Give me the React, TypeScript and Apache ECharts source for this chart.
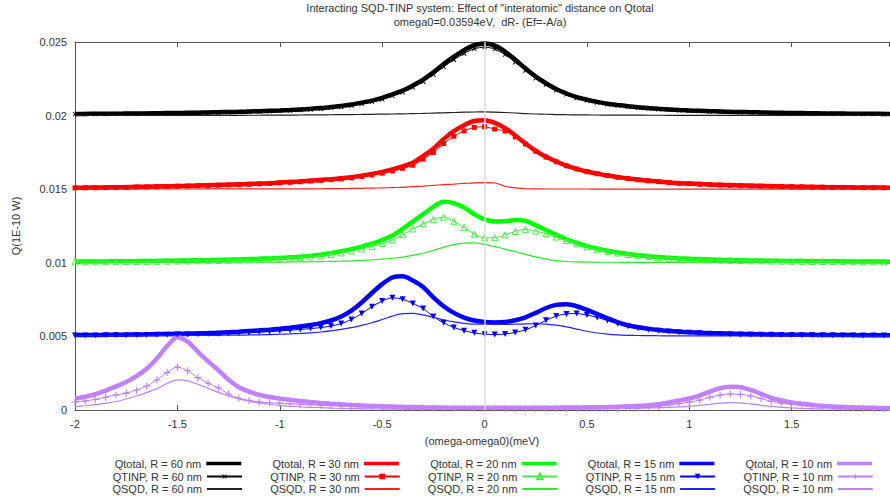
import React, { useEffect, useRef } from "react";
import * as echarts from "echarts";

// detuning grid (meV)
const xs = [
  -2, -1.95, -1.9, -1.85, -1.8, -1.75, -1.7, -1.65, -1.6, -1.55,
  -1.5, -1.45, -1.4, -1.35, -1.3, -1.25, -1.2, -1.15, -1.1, -1.05,
  -1, -0.95, -0.9, -0.85, -0.8, -0.75, -0.7, -0.65, -0.6, -0.55,
  -0.5, -0.45, -0.4, -0.35, -0.3, -0.25, -0.2, -0.15, -0.1, -0.05,
  0,
  0.05, 0.1, 0.15, 0.2, 0.25, 0.3, 0.35, 0.4, 0.45, 0.5,
  0.55, 0.6, 0.65, 0.7, 0.75, 0.8, 0.85, 0.9, 0.95, 1,
  1.05, 1.1, 1.15, 1.2, 1.25, 1.3, 1.35, 1.4, 1.45, 1.5,
  1.55, 1.6, 1.65, 1.7, 1.75, 1.8, 1.85, 1.9, 1.95, 2,
];

// R = 60 nm (curves shifted up by 0.02)
const qtotal60 = [
  0.02011, 0.020115, 0.02012, 0.020125, 0.02013, 0.020135, 0.02014, 0.02015, 0.02016, 0.02017,
  0.02018, 0.02019, 0.0202, 0.020215, 0.02023, 0.020245, 0.02026, 0.02028, 0.0203, 0.020325,
  0.02035, 0.02038, 0.02042, 0.02046, 0.02051, 0.02058, 0.02065, 0.02075, 0.02088, 0.02102,
  0.0212, 0.02145, 0.0217, 0.02205, 0.02245, 0.02295, 0.0235, 0.024, 0.02445, 0.02478,
  0.0249,
  0.02475, 0.02435, 0.0238, 0.0232, 0.02265, 0.0222, 0.0218, 0.0215, 0.02125, 0.02108,
  0.02093, 0.02081, 0.02072, 0.02064, 0.02057, 0.02051, 0.02046, 0.02042, 0.02038, 0.02035,
  0.020325, 0.0203, 0.02028, 0.02026, 0.020245, 0.02023, 0.020215, 0.0202, 0.02019, 0.02018,
  0.02017, 0.02016, 0.02015, 0.02014, 0.020135, 0.02013, 0.020125, 0.02012, 0.020115, 0.02011,
];
const qtinp60 = [
  0.0201, 0.020105, 0.02011, 0.020114, 0.020119, 0.020123, 0.020128, 0.020137, 0.020147, 0.020156,
  0.020165, 0.020174, 0.020183, 0.020197, 0.020211, 0.020225, 0.020239, 0.020257, 0.020275, 0.020298,
  0.02032, 0.020345, 0.02038, 0.020415, 0.02046, 0.020523, 0.020585, 0.020678, 0.0208, 0.02093,
  0.0211, 0.02134, 0.02158, 0.021915, 0.0223, 0.02278, 0.02331, 0.02379, 0.02422, 0.024535,
  0.02465,
  0.024515, 0.02414, 0.023625, 0.02306, 0.02254, 0.02211, 0.021728, 0.02144, 0.021198, 0.021035,
  0.02089, 0.020775, 0.020688, 0.02061, 0.020543, 0.020485, 0.020436, 0.020398, 0.020359, 0.02033,
  0.020306, 0.020281, 0.020262, 0.020242, 0.020228, 0.020213, 0.020199, 0.020184, 0.020175, 0.020165,
  0.020156, 0.020146, 0.020137, 0.020127, 0.020123, 0.020118, 0.020114, 0.020109, 0.020105, 0.0201,
];
const qsqd60 = [
  0.02001, 0.02001, 0.02001, 0.020011, 0.020011, 0.020012, 0.020012, 0.020013, 0.020013, 0.020014,
  0.020015, 0.020016, 0.020017, 0.020018, 0.020019, 0.02002, 0.020021, 0.020023, 0.020025, 0.020027,
  0.02003, 0.020035, 0.02004, 0.020045, 0.02005, 0.020057, 0.020065, 0.020072, 0.02008, 0.02009,
  0.0201, 0.02011, 0.02012, 0.020135, 0.02015, 0.02017, 0.02019, 0.02021, 0.02023, 0.020245,
  0.02025,
  0.020235, 0.02021, 0.020175, 0.02014, 0.02011, 0.02009, 0.020072, 0.02006, 0.020052, 0.020045,
  0.02004, 0.020035, 0.020032, 0.02003, 0.020027, 0.020025, 0.020024, 0.020022, 0.020021, 0.02002,
  0.020019, 0.020019, 0.020018, 0.020018, 0.020017, 0.020017, 0.020016, 0.020016, 0.020015, 0.020015,
  0.020014, 0.020014, 0.020013, 0.020013, 0.020012, 0.020012, 0.020011, 0.020011, 0.02001, 0.02001,
];

// R = 30 nm (shifted by 0.015)
const qtotal30 = [
  0.0151, 0.015105, 0.01511, 0.01512, 0.01513, 0.01514, 0.01516, 0.01517, 0.015185, 0.0152,
  0.015215, 0.01523, 0.01525, 0.01527, 0.01529, 0.01531, 0.01533, 0.015355, 0.01538, 0.01541,
  0.01545, 0.01549, 0.01553, 0.01558, 0.01563, 0.01568, 0.01574, 0.01582, 0.01592, 0.01604,
  0.01618, 0.01635, 0.01655, 0.0168, 0.01725, 0.01775, 0.0184, 0.01895, 0.01935, 0.01963,
  0.01968,
  0.0195, 0.01915, 0.01865, 0.0181, 0.0176, 0.0172, 0.01688, 0.0166, 0.01638, 0.0162,
  0.01606, 0.01593, 0.01582, 0.01573, 0.01565, 0.01558, 0.01552, 0.01546, 0.01541, 0.01538,
  0.01535, 0.01532, 0.015295, 0.015275, 0.015255, 0.015235, 0.01522, 0.015205, 0.01519, 0.01518,
  0.015165, 0.015155, 0.015145, 0.015135, 0.01513, 0.01512, 0.015115, 0.01511, 0.015105, 0.0151,
];
const qtinp30 = [
  0.01509, 0.015095, 0.0151, 0.01511, 0.01512, 0.015129, 0.015148, 0.015158, 0.015172, 0.015187,
  0.015202, 0.015216, 0.015235, 0.015254, 0.015273, 0.015292, 0.015311, 0.015335, 0.015359, 0.015388,
  0.015428, 0.015467, 0.015505, 0.015553, 0.0156, 0.015643, 0.015695, 0.015768, 0.01586, 0.015965,
  0.01609, 0.01624, 0.01642, 0.01663, 0.01704, 0.01749, 0.01809, 0.0186, 0.01896, 0.0192,
  0.01924,
  0.01908, 0.01895, 0.01856, 0.01807, 0.01758, 0.017185, 0.016866, 0.016587, 0.016368, 0.016188,
  0.016049, 0.015919, 0.01581, 0.01572, 0.01564, 0.01557, 0.01551, 0.01545, 0.0154, 0.01537,
  0.01534, 0.01531, 0.015285, 0.015265, 0.015245, 0.015225, 0.01521, 0.015195, 0.01518, 0.01517,
  0.015155, 0.015145, 0.015135, 0.015125, 0.01512, 0.01511, 0.015105, 0.0151, 0.015095, 0.01509,
];
const qsqd30 = [
  0.01501, 0.01501, 0.01501, 0.01501, 0.01501, 0.015011, 0.015012, 0.015012, 0.015013, 0.015013,
  0.015013, 0.015014, 0.015015, 0.015016, 0.015017, 0.015018, 0.015019, 0.01502, 0.015021, 0.015022,
  0.015022, 0.015023, 0.015025, 0.015027, 0.01503, 0.015037, 0.015045, 0.015052, 0.01506, 0.015075,
  0.01509, 0.01511, 0.01513, 0.01517, 0.01521, 0.01526, 0.01531, 0.01535, 0.01539, 0.01543,
  0.01544,
  0.01542, 0.0152, 0.01509, 0.01503, 0.01502, 0.015015, 0.015014, 0.015013, 0.015012, 0.015012,
  0.015011, 0.015011, 0.01501, 0.01501, 0.01501, 0.01501, 0.01501, 0.01501, 0.01501, 0.01501,
  0.01501, 0.01501, 0.01501, 0.01501, 0.01501, 0.01501, 0.01501, 0.01501, 0.01501, 0.01501,
  0.01501, 0.01501, 0.01501, 0.01501, 0.01501, 0.01501, 0.01501, 0.01501, 0.01501, 0.01501,
];

// R = 20 nm (shifted by 0.01)
const qtotal20 = [
  0.01008, 0.010085, 0.01009, 0.010095, 0.0101, 0.010105, 0.01011, 0.01012, 0.01013, 0.01014,
  0.01015, 0.01016, 0.01017, 0.01018, 0.010195, 0.01021, 0.01023, 0.01025, 0.01027, 0.0103,
  0.01033, 0.01037, 0.01041, 0.01047, 0.01054, 0.01065, 0.01078, 0.01093, 0.0111, 0.0113,
  0.01155, 0.01185, 0.0123, 0.0128, 0.0133, 0.0138, 0.01415, 0.01405, 0.01375, 0.0133,
  0.01295,
  0.0128, 0.01283, 0.0129, 0.01285, 0.01255, 0.01223, 0.0119, 0.0116, 0.01135, 0.01113,
  0.01096, 0.01082, 0.0107, 0.0106, 0.01052, 0.01045, 0.01039, 0.01034, 0.0103, 0.01027,
  0.010245, 0.010225, 0.010205, 0.01019, 0.010175, 0.01016, 0.01015, 0.01014, 0.01013, 0.01012,
  0.010115, 0.01011, 0.010105, 0.0101, 0.010095, 0.01009, 0.010087, 0.010084, 0.010081, 0.010078,
];
const qtinp20 = [
  0.01006, 0.010064, 0.010069, 0.010073, 0.010077, 0.010081, 0.010085, 0.010094, 0.010103, 0.010112,
  0.01012, 0.010128, 0.010136, 0.010144, 0.010157, 0.01017, 0.010188, 0.010206, 0.010224, 0.010252,
  0.01028, 0.010315, 0.01035, 0.0104, 0.01046, 0.010555, 0.01067, 0.0108, 0.01094, 0.0111,
  0.0113, 0.01154, 0.01191, 0.0123, 0.01265, 0.01295, 0.0131, 0.01282, 0.01241, 0.01195,
  0.0117,
  0.0117, 0.0119, 0.01213, 0.01227, 0.01215, 0.01198, 0.01175, 0.01151, 0.01129, 0.011085,
  0.01092, 0.010782, 0.010664, 0.010566, 0.010488, 0.010419, 0.01036, 0.010311, 0.010272, 0.010243,
  0.010219, 0.0102, 0.01018, 0.010166, 0.010152, 0.010137, 0.010128, 0.010119, 0.010109, 0.0101,
  0.010095, 0.010091, 0.010087, 0.010082, 0.010078, 0.010073, 0.010071, 0.010068, 0.010066, 0.010063,
];
const qsqd20 = [
  0.01002, 0.010021, 0.010021, 0.010022, 0.010023, 0.010024, 0.010025, 0.010026, 0.010027, 0.010028,
  0.01003, 0.010032, 0.010034, 0.010036, 0.010038, 0.01004, 0.010042, 0.010044, 0.010046, 0.010048,
  0.01005, 0.010055, 0.01006, 0.01007, 0.01008, 0.010095, 0.01011, 0.01013, 0.01016, 0.0102,
  0.01025, 0.01031, 0.01039, 0.0105, 0.01065, 0.01085, 0.01105, 0.01123, 0.01134, 0.01135,
  0.01125,
  0.0111, 0.01093, 0.01077, 0.01058, 0.0104, 0.01025, 0.01015, 0.01009, 0.01006, 0.010045,
  0.01004, 0.010038, 0.010036, 0.010034, 0.010032, 0.010031, 0.01003, 0.010029, 0.010028, 0.010027,
  0.010026, 0.010025, 0.010025, 0.010024, 0.010023, 0.010023, 0.010022, 0.010021, 0.010021, 0.01002,
  0.01002, 0.010019, 0.010018, 0.010018, 0.010017, 0.010017, 0.010016, 0.010016, 0.010015, 0.010015,
];

// R = 15 nm (shifted by 0.005)
const qtotal15 = [
  0.00509, 0.005095, 0.0051, 0.005105, 0.00511, 0.00512, 0.00513, 0.00514, 0.00515, 0.00516,
  0.005175, 0.00519, 0.005205, 0.005225, 0.00525, 0.00528, 0.00532, 0.00537, 0.00541, 0.00546,
  0.00552, 0.00559, 0.00567, 0.00577, 0.0059, 0.00608, 0.00635, 0.00675, 0.0073, 0.00795,
  0.00855, 0.009, 0.00908, 0.0088, 0.00835, 0.00765, 0.00705, 0.0066, 0.00628, 0.00608,
  0.00598,
  0.00595, 0.00598, 0.0061, 0.0063, 0.0066, 0.00693, 0.00714, 0.00718, 0.00705, 0.0068,
  0.00652, 0.00623, 0.00596, 0.00576, 0.00562, 0.00551, 0.00543, 0.00537, 0.00532, 0.00528,
  0.00525, 0.00522, 0.0052, 0.00518, 0.005165, 0.00515, 0.00514, 0.00513, 0.00512, 0.005115,
  0.00511, 0.005105, 0.0051, 0.005095, 0.00509, 0.005087, 0.005084, 0.005081, 0.005078, 0.005075,
];
const qtinp15 = [
  0.00506, 0.005065, 0.005068, 0.005071, 0.005074, 0.005082, 0.00509, 0.005097, 0.005104, 0.00511,
  0.005121, 0.005132, 0.005142, 0.005157, 0.005176, 0.0052, 0.005232, 0.005273, 0.0053, 0.005335,
  0.005375, 0.00542, 0.00547, 0.00553, 0.0056, 0.0057, 0.00587, 0.00615, 0.00655, 0.00702,
  0.0074, 0.00762, 0.00753, 0.00724, 0.00689, 0.00635, 0.00592, 0.00561, 0.00539, 0.00524,
  0.00515,
  0.00513, 0.00516, 0.00527, 0.00545, 0.00574, 0.00609, 0.00638, 0.00653, 0.00655, 0.00645,
  0.00629, 0.00608, 0.00586, 0.005685, 0.00556, 0.00546, 0.005385, 0.00533, 0.005283, 0.005245,
  0.005217, 0.005188, 0.005169, 0.00515, 0.005136, 0.005122, 0.005113, 0.005104, 0.005095, 0.00509,
  0.005086, 0.005081, 0.005077, 0.005072, 0.005068, 0.005065, 0.005063, 0.00506, 0.005058, 0.005055,
];
const qsqd15 = [
  0.00503, 0.00503, 0.005032, 0.005034, 0.005036, 0.005038, 0.00504, 0.005043, 0.005046, 0.00505,
  0.005054, 0.005058, 0.005063, 0.005068, 0.005074, 0.00508, 0.005088, 0.005097, 0.00511, 0.005125,
  0.005145, 0.00517, 0.0052, 0.00524, 0.0053, 0.00538, 0.00548, 0.0056, 0.00575, 0.00593,
  0.00615, 0.00638, 0.00655, 0.00656, 0.00646, 0.0063, 0.00613, 0.00599, 0.00589, 0.00584,
  0.00583,
  0.00582, 0.00582, 0.00583, 0.00585, 0.00586, 0.00584, 0.00576, 0.00565, 0.0055, 0.00535,
  0.00523, 0.00515, 0.0051, 0.005075, 0.00506, 0.00505, 0.005045, 0.00504, 0.005037, 0.005035,
  0.005033, 0.005032, 0.005031, 0.00503, 0.005029, 0.005028, 0.005027, 0.005026, 0.005025, 0.005025,
  0.005024, 0.005024, 0.005023, 0.005023, 0.005022, 0.005022, 0.005021, 0.005021, 0.00502, 0.00502,
];

// R = 10 nm (no shift)
const qtotal10 = [
  0.00077, 0.0009, 0.00108, 0.00132, 0.0016, 0.0019, 0.0023, 0.0028, 0.0035, 0.00435,
  0.00495, 0.00465, 0.00395, 0.0033, 0.0027, 0.00205, 0.00155, 0.00125, 0.00103, 0.00088,
  0.00078, 0.00069, 0.00061, 0.00054, 0.00048, 0.00043, 0.000385, 0.000345, 0.00031, 0.00028,
  0.000255, 0.00023, 0.00021, 0.000195, 0.00018, 0.00017, 0.00016, 0.000155, 0.00015, 0.00015,
  0.00015,
  0.00015, 0.00015, 0.00015, 0.00015, 0.00015, 0.000155, 0.00016, 0.000165, 0.00017, 0.00018,
  0.00019, 0.0002, 0.00022, 0.00025, 0.00027, 0.00032, 0.0004, 0.00052, 0.00064, 0.00078,
  0.00098, 0.00125, 0.00148, 0.00158, 0.00155, 0.00136, 0.0011, 0.00083, 0.00065, 0.00052,
  0.00042, 0.00034, 0.00028, 0.00024, 0.00021, 0.00018, 0.00016, 0.00014, 0.000125, 0.00011,
];
const qtinp10 = [
  0.00054, 0.00061, 0.00072, 0.00087, 0.00102, 0.00115, 0.00135, 0.00162, 0.00205, 0.00255,
  0.00291, 0.00267, 0.0022, 0.00182, 0.0015, 0.00109, 0.00079, 0.00065, 0.00055, 0.00049,
  0.00046, 0.00043, 0.00039, 0.000355, 0.000325, 0.0003, 0.000275, 0.00025, 0.000228, 0.000208,
  0.000192, 0.000174, 0.00016, 0.00015, 0.000138, 0.00013, 0.000122, 0.000118, 0.000113, 0.000113,
  0.000112,
  0.000111, 0.000109, 0.000107, 0.000104, 0.0001, 0.000101, 0.000102, 0.000102, 0.000102, 0.000105,
  0.000107, 0.00011, 0.00012, 0.00014, 0.00015, 0.000185, 0.000245, 0.00034, 0.00043, 0.00053,
  0.00067, 0.00086, 0.00101, 0.00108, 0.00107, 0.00095, 0.00078, 0.00059, 0.00047, 0.00038,
  0.00031, 0.00025, 0.000205, 0.000175, 0.000153, 0.00013, 0.000115, 0.0001, 0.000089, 0.000077,
];
const qsqd10 = [
  0.00023, 0.00029, 0.00036, 0.00045, 0.00058, 0.00075, 0.00095, 0.00118, 0.00145, 0.0018,
  0.00204, 0.00198, 0.00175, 0.00148, 0.0012, 0.00096, 0.00076, 0.0006, 0.00048, 0.00039,
  0.00032, 0.00026, 0.00022, 0.000185, 0.000155, 0.00013, 0.00011, 0.000095, 0.000082, 0.000072,
  0.000063, 0.000056, 0.00005, 0.000045, 0.000042, 0.00004, 0.000038, 0.000037, 0.000037, 0.000037,
  0.000038,
  0.000039, 0.000041, 0.000043, 0.000046, 0.00005, 0.000054, 0.000058, 0.000063, 0.000068, 0.000075,
  0.000083, 0.00009, 0.0001, 0.00011, 0.00012, 0.000135, 0.000155, 0.00018, 0.00021, 0.00025,
  0.00031, 0.00039, 0.00047, 0.0005, 0.00048, 0.00041, 0.00032, 0.00024, 0.00018, 0.00014,
  0.00011, 0.00009, 0.000075, 0.000065, 0.000057, 0.00005, 0.000045, 0.00004, 0.000036, 0.000033,
];

const radii = [60, 30, 20, 15, 10];

const FONT = "'Liberation Sans', Arial, sans-serif";
const TEXT_COLOR = "#333";
const PLUS = "path://M4.2,0H5.8V4.2H10V5.8H5.8V10H4.2V5.8H0V4.2H4.2Z";

type Group = {
  r: number;
  total: number[];
  tinp: number[];
  sqd: number[];
  color: string;
  tinpColor: string;
  sqdColor: string;
  symbol: string;
  symbolSize: number;
  symbolRotate: number;
  hollow: boolean;
};

const groups: Group[] = [
  { r: 60, total: qtotal60, tinp: qtinp60, sqd: qsqd60, color: "#000000", tinpColor: "#000000", sqdColor: "#222222", symbol: PLUS, symbolSize: 6, symbolRotate: 45, hollow: false },
  { r: 30, total: qtotal30, tinp: qtinp30, sqd: qsqd30, color: "#ff0000", tinpColor: "#ff0000", sqdColor: "#ff2020", symbol: "rect", symbolSize: 5, symbolRotate: 0, hollow: false },
  { r: 20, total: qtotal20, tinp: qtinp20, sqd: qsqd20, color: "#00ff00", tinpColor: "#44ee44", sqdColor: "#22ee22", symbol: "triangle", symbolSize: 6, symbolRotate: 0, hollow: true },
  { r: 15, total: qtotal15, tinp: qtinp15, sqd: qsqd15, color: "#0000ff", tinpColor: "#0000ff", sqdColor: "#2222ff", symbol: "triangle", symbolSize: 6, symbolRotate: 180, hollow: false },
  { r: 10, total: qtotal10, tinp: qtinp10, sqd: qsqd10, color: "#c080ff", tinpColor: "#c080ff", sqdColor: "#c080ff", symbol: PLUS, symbolSize: 7, symbolRotate: 0, hollow: false },
];

const pairs = (ys: number[]) => xs.map((x, i) => [x, ys[i]]);
const totalName = (r: number) => `Qtotal, R = ${r} nm`;
const tinpName = (r: number) => `QTINP, R = ${r} nm`;
const sqdName = (r: number) => `QSQD, R = ${r} nm`;

function buildOption() {
  const series: any[] = [
    {
      name: "zero",
      type: "line",
      data: [],
      silent: true,
      z: 1,
      markLine: {
        silent: true,
        symbol: "none",
        label: { show: false },
        lineStyle: { color: "#dcdcdc", width: 1.5, type: "solid" },
        data: [{ xAxis: 0 }],
      },
    },
  ];
  groups.forEach((g) => {
    series.push({
      name: totalName(g.r),
      type: "line",
      data: pairs(g.total),
      smooth: 0.3,
      symbol: "none",
      lineStyle: { color: g.color, width: 4.5 },
      itemStyle: { color: g.color },
    });
    series.push({
      name: tinpName(g.r),
      type: "line",
      data: pairs(g.tinp),
      smooth: 0.3,
      symbol: g.symbol,
      symbolSize: g.symbolSize,
      symbolRotate: g.symbolRotate,
      showSymbol: true,
      lineStyle: { color: g.tinpColor, width: 1 },
      itemStyle: g.hollow
        ? { color: "rgba(255,255,255,0)", borderColor: g.tinpColor, borderWidth: 1 }
        : { color: g.tinpColor },
    });
    series.push({
      name: sqdName(g.r),
      type: "line",
      data: pairs(g.sqd),
      smooth: 0.3,
      symbol: "none",
      lineStyle: { color: g.sqdColor, width: 1.2 },
      itemStyle: { color: g.sqdColor },
    });
  });

  // one legend entry per cell: columns by radius, rows by quantity
  const rowTops = [458, 471, 483.5];
  const legends: any[] = [];
  radii.forEach((r, c) => {
    const iconRight = 243 + 157.7 * c;
    [totalName(r), tinpName(r), sqdName(r)].forEach((name, row) => {
      const lg: any = {
        data: [name],
        right: 890 - iconRight,
        top: rowTops[row],
        align: "right",
        orient: "horizontal",
        itemWidth: 35,
        itemHeight: 7,
        padding: 0,
        selectedMode: false,
        textStyle: { fontFamily: FONT, fontSize: 11, color: TEXT_COLOR },
      };
      if (row === 0) {
        lg.itemStyle = { opacity: 0 };
        lg.lineStyle = { width: 3.5 };
      } else if (row === 2) {
        lg.itemStyle = { opacity: 0 };
        lg.lineStyle = { width: 2 };
      }
      legends.push(lg);
    });
  });

  const axisLine = { show: true, onZero: false, lineStyle: { color: "#555", width: 1 } };
  const axisTick = { show: true, inside: true, length: 5, lineStyle: { color: "#555" } };

  return {
    animation: false,
    textStyle: { fontFamily: FONT },
    title: {
      text: 'Interacting SQD-TINP system: Effect of "interatomic" distance on Qtotal',
      subtext: "omega0=0.03594eV,  dR- (Ef=-A/a)",
      left: 480,
      top: 1,
      textAlign: "center",
      padding: 0,
      itemGap: 1,
      textStyle: { fontFamily: FONT, fontSize: 11, fontWeight: "normal", color: TEXT_COLOR, lineHeight: 13 },
      subtextStyle: { fontFamily: FONT, fontSize: 11, color: TEXT_COLOR, lineHeight: 13 },
    },
    legend: legends,
    grid: { left: 75, right: 1, top: 42, bottom: 89, containLabel: false },
    xAxis: [
      {
        type: "value",
        min: -2,
        max: 1.975,
        interval: 0.5,
        name: "(omega-omega0)(meV)",
        nameLocation: "middle",
        nameGap: 25,
        nameTextStyle: { fontFamily: FONT, fontSize: 11, color: TEXT_COLOR },
        axisLine,
        axisTick,
        splitLine: { show: false },
        axisLabel: {
          margin: 8,
          fontFamily: FONT,
          fontSize: 11,
          color: TEXT_COLOR,
          showMaxLabel: false,
          formatter: (v: number) => (Math.abs(v * 2 - Math.round(v * 2)) < 1e-9 ? String(v) : ""),
        },
      },
      {
        type: "value",
        position: "top",
        min: -2,
        max: 1.975,
        interval: 0.5,
        axisLine,
        axisTick,
        axisLabel: { show: false },
        splitLine: { show: false },
      },
    ],
    yAxis: {
      type: "value",
      min: 0,
      max: 0.025,
      interval: 0.005,
      name: "Q(1E-10 W)",
      nameLocation: "middle",
      nameGap: 54,
      nameTextStyle: { fontFamily: FONT, fontSize: 11, color: TEXT_COLOR },
      axisLine,
      axisTick,
      splitLine: { show: false },
      axisLabel: { margin: 8, fontFamily: FONT, fontSize: 11, color: TEXT_COLOR },
    },
    series,
  };
}

export default function App() {
  const ref = useRef<HTMLDivElement>(null);
  useEffect(() => {
    if (!ref.current) return;
    const chart = echarts.init(ref.current, undefined, { renderer: "svg" });
    chart.setOption(buildOption() as any);
    return () => chart.dispose();
  }, []);
  return (
    <div
      ref={ref}
      style={{ position: "fixed", left: 0, top: 0, width: 890, height: 499, background: "#fff" }}
    />
  );
}
